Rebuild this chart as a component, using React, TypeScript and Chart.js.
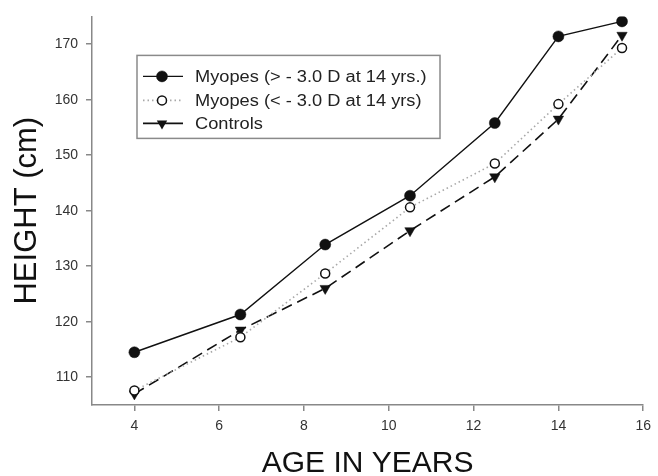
import React, { useEffect, useRef } from "react";
import { Chart, registerables } from "chart.js";

Chart.register(...registerables);

const ages = [4, 6.5, 8.5, 10.5, 12.5, 14, 15.5];
const myopesHigh = [114.5, 121.3, 133.9, 142.7, 155.8, 171.4, 174.1];
const myopesLow = [107.6, 117.2, 128.7, 140.6, 148.5, 159.2, 169.3];
const controls = [107.0, 118.5, 126.0, 136.4, 146.1, 156.5, 171.6];

const xTicks = [4, 6, 8, 10, 12, 14, 16];
const yTicks = [110, 120, 130, 140, 150, 160, 170];

const seriesLabels = [
  "Myopes (> - 3.0 D at 14 yrs.)",
  "Myopes (< - 3.0 D at 14 yrs)",
  "Controls",
];

const FONT = "'Liberation Sans', Arial, sans-serif";

const legendPlugin = {
  id: "boxLegend",
  afterDraw(chart: any) {
    const { ctx, chartArea } = chart;
    const left = chartArea.left + 45;
    const top = chartArea.top + 39;
    const w = 303;
    const h = 83;
    ctx.save();
    ctx.strokeStyle = "#8a8a8a";
    ctx.lineWidth = 1.5;
    ctx.strokeRect(left, top, w, h);
    const rows = [top + 21, top + 45, top + 68];
    chart.data.datasets.forEach((ds: any, i: number) => {
      const y = rows[i];
      const x0 = left + 6;
      const x1 = left + 46;
      const mx = left + 25;
      ctx.save();
      ctx.strokeStyle = ds.borderColor;
      ctx.lineWidth = ds.borderWidth;
      ctx.setLineDash(i === 1 ? ds.borderDash : []);
      ctx.beginPath();
      ctx.moveTo(x0, y);
      ctx.lineTo(x1, y);
      ctx.stroke();
      ctx.restore();
      ctx.save();
      ctx.fillStyle = ds.pointBackgroundColor;
      ctx.strokeStyle = ds.pointBorderColor;
      ctx.lineWidth = ds.pointBorderWidth;
      if (ds.pointStyle === "triangle") {
        const r = ds.pointRadius;
        ctx.beginPath();
        ctx.moveTo(mx - r * 0.866, y - r * 0.5);
        ctx.lineTo(mx + r * 0.866, y - r * 0.5);
        ctx.lineTo(mx, y + r);
        ctx.closePath();
        ctx.fill();
      } else {
        ctx.beginPath();
        ctx.arc(mx, y, ds.pointRadius, 0, Math.PI * 2);
        ctx.fill();
        ctx.stroke();
      }
      ctx.restore();
      ctx.save();
      ctx.fillStyle = "#222";
      ctx.font = `16px ${FONT}`;
      ctx.textBaseline = "middle";
      ctx.textAlign = "left";
      ctx.translate(left + 58, y + 1);
      ctx.scale(1.14, 1);
      ctx.fillText(ds.label, 0, 0);
      ctx.restore();
    });
    ctx.restore();
  },
};

export default function App() {
  const ref = useRef<HTMLCanvasElement>(null);
  useEffect(() => {
    if (!ref.current) return;
    const mk = (arr: number[]) => ages.map((a, i) => ({ x: a, y: arr[i] }));
    const chart = new Chart(ref.current, {
      type: "line",
      data: {
        datasets: [
          {
            label: seriesLabels[0],
            data: mk(myopesHigh),
            borderColor: "#111",
            borderWidth: 1.4,
            pointStyle: "circle",
            pointRadius: 5.5,
            pointBackgroundColor: "#111",
            pointBorderColor: "#111",
            pointBorderWidth: 0.5,
            tension: 0,
          },
          {
            label: seriesLabels[1],
            data: mk(myopesLow),
            borderColor: "#a8a8a8",
            borderWidth: 1.6,
            borderDash: [1.5, 3],
            pointStyle: "circle",
            pointRadius: 4.5,
            pointBackgroundColor: "#fff",
            pointBorderColor: "#111",
            pointBorderWidth: 1.5,
            tension: 0,
          },
          {
            label: seriesLabels[2],
            data: mk(controls),
            borderColor: "#111",
            borderWidth: 1.6,
            borderDash: [11, 6],
            pointStyle: "triangle",
            rotation: 180,
            pointRadius: 6,
            pointBackgroundColor: "#111",
            pointBorderColor: "#111",
            pointBorderWidth: 0.5,
            tension: 0,
          },
        ] as any,
      },
      options: {
        animation: false,
        responsive: false,
        layout: { padding: { top: 14, right: 9, left: 0, bottom: 0 } },
        plugins: { legend: { display: false }, tooltip: { enabled: false } },
        scales: {
          x: {
            type: "linear",
            min: 3,
            max: 16,
            afterBuildTicks: (s: any) => {
              s.ticks = xTicks.map((v) => ({ value: v }));
            },
            afterFit: (s: any) => {
              s.height = 71;
            },
            grid: {
              drawOnChartArea: false,
              drawTicks: true,
              tickLength: 6,
              color: "#888",
              lineWidth: 1.5,
            },
            border: { display: true, color: "#888", width: 1.5 },
            ticks: {
              color: "#333",
              font: { family: FONT, size: 14 },
              padding: 7,
              autoSkip: false,
              maxRotation: 0,
            },
            title: {
              display: true,
              text: "AGE IN YEARS",
              color: "#111",
              font: { family: FONT, size: 30, lineHeight: 0.8 },
              padding: { top: 0, bottom: 0 },
            },
          },
          y: {
            type: "linear",
            min: 105,
            max: 175,
            afterBuildTicks: (s: any) => {
              s.ticks = yTicks.map((v) => ({ value: v }));
            },
            afterFit: (s: any) => {
              s.width = 92;
            },
            grid: {
              drawOnChartArea: false,
              drawTicks: true,
              tickLength: 6,
              color: "#888",
              lineWidth: 1.5,
            },
            border: { display: true, color: "#888", width: 1.5 },
            ticks: {
              color: "#333",
              font: { family: FONT, size: 14 },
              padding: 8,
            },
            title: {
              display: true,
              text: "HEIGHT (cm)",
              color: "#111",
              font: { family: FONT, size: 31, lineHeight: 1 },
              padding: { top: 12, bottom: 0 },
            },
          },
        },
      } as any,
      plugins: [legendPlugin],
    });
    return () => chart.destroy();
  }, []);
  return (
    <div style={{ position: "absolute", left: 0, top: 0, width: 658, height: 476, background: "#fff" }}>
      <canvas ref={ref} width={658} height={476} />
    </div>
  );
}
